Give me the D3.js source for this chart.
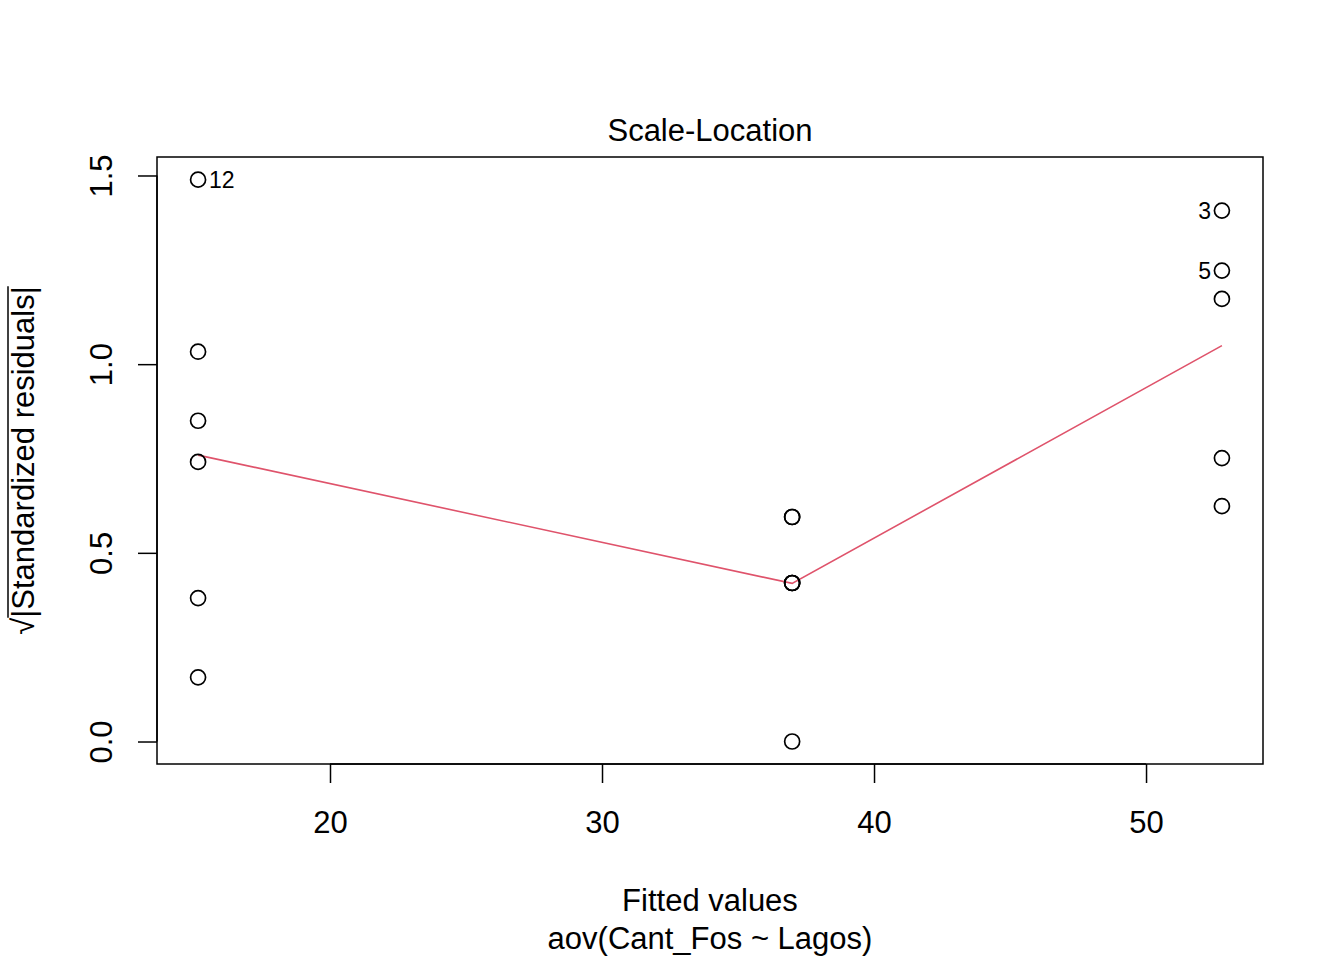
<!DOCTYPE html>
<html><head><meta charset="utf-8">
<script src="https://cdn.jsdelivr.net/npm/d3@7"></script>
<style>body{margin:0;background:#fff}svg{display:block;font-family:"Liberation Sans",Arial,Helvetica,sans-serif}</style>
</head><body>
<script>
const fittedValues = [15.15,15.15,15.15,15.15,15.15,15.15, 36.99,36.99,36.99,36.99,36.99,36.99, 52.79,52.79,52.79,52.79,52.79];
const sqrtStdResid = [1.489,1.033,0.850,0.741,0.380,0.170, 0.595,0.595,0.420,0.420,0.420,0.000, 1.407,1.248,1.173,0.751,0.624];
const smoothX = [15.15,36.99,52.79];
const smoothY = [0.759,0.419,1.049];
const labelIdx = [{i:0,label:"12",side:"right"},{i:12,label:"3",side:"left"},{i:13,label:"5",side:"left"}];
const xTicks = [20,30,40,50];
const yTicks = [0.0,0.5,1.0,1.5];

const W=1344,H=960;
const L=157,R=1263,T=157,B=764;
const FS=31;
const svg=d3.select("body").append("svg").attr("width",W).attr("height",H);
const x=d3.scaleLinear().domain([13.64,54.30]).range([L,R]);
const y=d3.scaleLinear().domain([-0.0596,1.549]).range([B,T]);

svg.append("rect").attr("x",L).attr("y",T).attr("width",R-L).attr("height",B-T)
  .attr("fill","none").attr("stroke","#000").attr("stroke-width",1.5);

const xa=svg.append("g").attr("transform",`translate(0,${B})`)
  .call(d3.axisBottom(x).tickValues(xTicks).tickSize(19).tickFormat(d3.format("d")));
xa.select(".domain").remove();
xa.selectAll("line").attr("stroke-width",1.5);
xa.selectAll(".tick text").attr("font-size",FS).attr("fill","#000").attr("font-family","Liberation Sans, Arial, sans-serif")
  .attr("y",69).attr("dy","0");
svg.append("line").attr("x1",x(20)).attr("x2",x(50)).attr("y1",B).attr("y2",B).attr("stroke","#000").attr("stroke-width",1.5);

const ya=svg.append("g").attr("transform",`translate(${L},0)`)
  .call(d3.axisLeft(y).tickValues(yTicks).tickSize(19).tickFormat(d3.format(".1f")));
ya.select(".domain").remove();
ya.selectAll("line").attr("stroke-width",1.5);
ya.selectAll(".tick text").each(function(d){
  d3.select(this).attr("x",null).attr("y",null).attr("dy","0")
   .attr("transform",`translate(-45,0) rotate(-90)`).attr("text-anchor","middle")
   .attr("font-size",FS).attr("fill","#000").attr("font-family","Liberation Sans, Arial, sans-serif");
});
svg.append("line").attr("x1",L).attr("x2",L).attr("y1",y(0)).attr("y2",y(1.5)).attr("stroke","#000").attr("stroke-width",1.5);

// smooth line
svg.append("path").datum(smoothX.map((v,i)=>[v,smoothY[i]]))
  .attr("d",d3.line().x(d=>x(d[0])).y(d=>y(d[1])))
  .attr("fill","none").attr("stroke","#DF536B").attr("stroke-width",1.6);

// points
svg.append("g").selectAll("circle").data(fittedValues.map((v,i)=>[v,sqrtStdResid[i]]))
  .join("circle").attr("cx",d=>x(d[0])).attr("cy",d=>y(d[1])).attr("r",7.5)
  .attr("fill","none").attr("stroke","#000").attr("stroke-width",1.7);

// point labels
svg.append("g").selectAll("text").data(labelIdx).join("text")
  .attr("x",d=>x(fittedValues[d.i])+(d.side==="right"?11:-11))
  .attr("y",d=>y(sqrtStdResid[d.i])+8)
  .attr("text-anchor",d=>d.side==="right"?"start":"end")
  .attr("font-size",23).text(d=>d.label);

// titles
svg.append("text").attr("x",(L+R)/2).attr("y",141).attr("text-anchor","middle").attr("font-size",FS).text("Scale-Location");
svg.append("text").attr("x",(L+R)/2).attr("y",911).attr("text-anchor","middle").attr("font-size",FS).text("Fitted values");
svg.append("text").attr("x",(L+R)/2).attr("y",949).attr("text-anchor","middle").attr("font-size",FS).text("aov(Cant_Fos ~ Lagos)");

// y label with radical and overline
const yl=svg.append("g").attr("transform",`translate(34,${(T+B)/2}) rotate(-90)`);
const yt=yl.append("text").attr("text-anchor","middle").attr("font-size",FS).attr("x",0).attr("y",0);
yt.append("tspan").text("\u221A");
const inner=yt.append("tspan").text("|Standardized residuals|");
const bb=inner.node().getBBox();
yl.append("line").attr("x1",bb.x).attr("x2",bb.x+bb.width).attr("y1",bb.y+2).attr("y2",bb.y+2)
  .attr("stroke","#000").attr("stroke-width",1.5);
</script>
</body></html>
